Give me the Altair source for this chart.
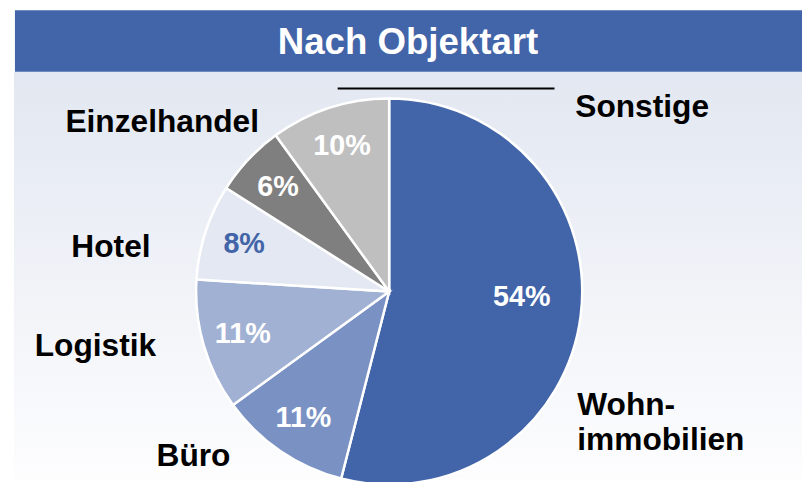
import altair as alt
import pandas as pd

# ---- data ----
categories = ["Wohnimmobilien", "Büro", "Logistik", "Hotel", "Einzelhandel", "Sonstige"]
shares = [54, 11, 11, 8, 6, 10]
pct_labels = ["54%", "11%", "11%", "8%", "6%", "10%"]
slice_colors = ["#4264A8", "#7A91C4", "#A1B1D4", "#E3E8F2", "#7F7F7F", "#BFBFBF"]
label_colors = ["#FFFFFF", "#FFFFFF", "#FFFFFF", "#4264A8", "#FFFFFF", "#FFFFFF"]
title_text = "Nach Objektart"

# category label text (annotation) and layout
cat_texts = ["Wohn-\nimmobilien", "Büro", "Logistik", "Hotel", "Einzelhandel", "Sonstige"]
cat_x = [575, 150, 27, 64, 58, 573]
cat_y = [409, 460, 349, 249, 123, 108]

W, H = 802, 474
CX, CY, R = 385, 284, 195
FONT = "Liberation Sans"

pie_df = pd.DataFrame({
    "cat": categories,
    "value": shares,
    "order": list(range(len(categories))),
    "pct": pct_labels,
    "lc": label_colors,
})
lab_df = pd.DataFrame({"t": cat_texts, "x": cat_x, "y": cat_y})
one = pd.DataFrame({"a": [0]})

panel = alt.Chart(one).mark_rect(
    color=alt.Gradient(
        gradient="linear",
        stops=[alt.GradientStop(color="#E2E7F1", offset=0),
               alt.GradientStop(color="#FDFDFE", offset=1)],
        x1=0, x2=0, y1=0, y2=1,
    )
).encode(x=alt.value(6), x2=alt.value(W), y=alt.value(62), y2=alt.value(H))

band = alt.Chart(one).mark_rect(color="#4264A8").encode(
    x=alt.value(7), x2=alt.value(W), y=alt.value(0), y2=alt.value(62)
)

title = alt.Chart(one).mark_text(
    text=title_text, font=FONT, fontWeight="bold", fontSize=37, color="white",
    align="center", baseline="alphabetic",
).encode(x=alt.value(404), y=alt.value(44))

rule = alt.Chart(one).mark_rule(color="black", strokeWidth=2).encode(
    x=alt.value(333), x2=alt.value(552), y=alt.value(79)
)

arcs = alt.Chart(pie_df).mark_arc(radius=R, stroke="white", strokeWidth=2.5).encode(
    theta=alt.Theta("value:Q", stack=True),
    order=alt.Order("order:Q", sort="ascending"),
    color=alt.Color("cat:N", scale=alt.Scale(domain=categories, range=slice_colors), legend=None),
    x=alt.value(CX), y=alt.value(CY),
)

pcts = alt.Chart(pie_df).transform_joinaggregate(
    total="sum(value)"
).transform_window(
    cum="sum(value)", sort=[alt.SortField("order", order="ascending")], frame=[None, 0]
).transform_calculate(
    mid="(datum.cum - datum.value / 2) / datum.total * 2 * PI - (datum.value > 50 ? 0.08 : 0)",
    lr="datum.value > 50 ? 134 : 154",
).mark_text(font=FONT, fontWeight="bold", fontSize=29, align="center", baseline="middle").encode(
    text="pct:N",
    color=alt.Color("lc:N", scale=None),
    theta=alt.Theta("mid:Q", scale=None, stack=None),
    radius=alt.Radius("lr:Q", scale=None),
    x=alt.value(CX), y=alt.value(CY),
)

labels = alt.Chart(lab_df).mark_text(
    font=FONT, fontWeight="bold", fontSize=32, color="black",
    align="left", baseline="alphabetic", lineBreak="\n", lineHeight=35,
).encode(
    text="t:N",
    x=alt.X("x:Q", scale=None),
    y=alt.Y("y:Q", scale=None),
)

chart = alt.layer(panel, band, title, rule, arcs, pcts, labels).properties(
    width=W, height=H, autosize=alt.AutoSizeParams(type="none"), padding=0,
    background="white",
).configure_view(stroke=None)

chart.save("out.html", embed_options={"renderer": "svg", "actions": False})
